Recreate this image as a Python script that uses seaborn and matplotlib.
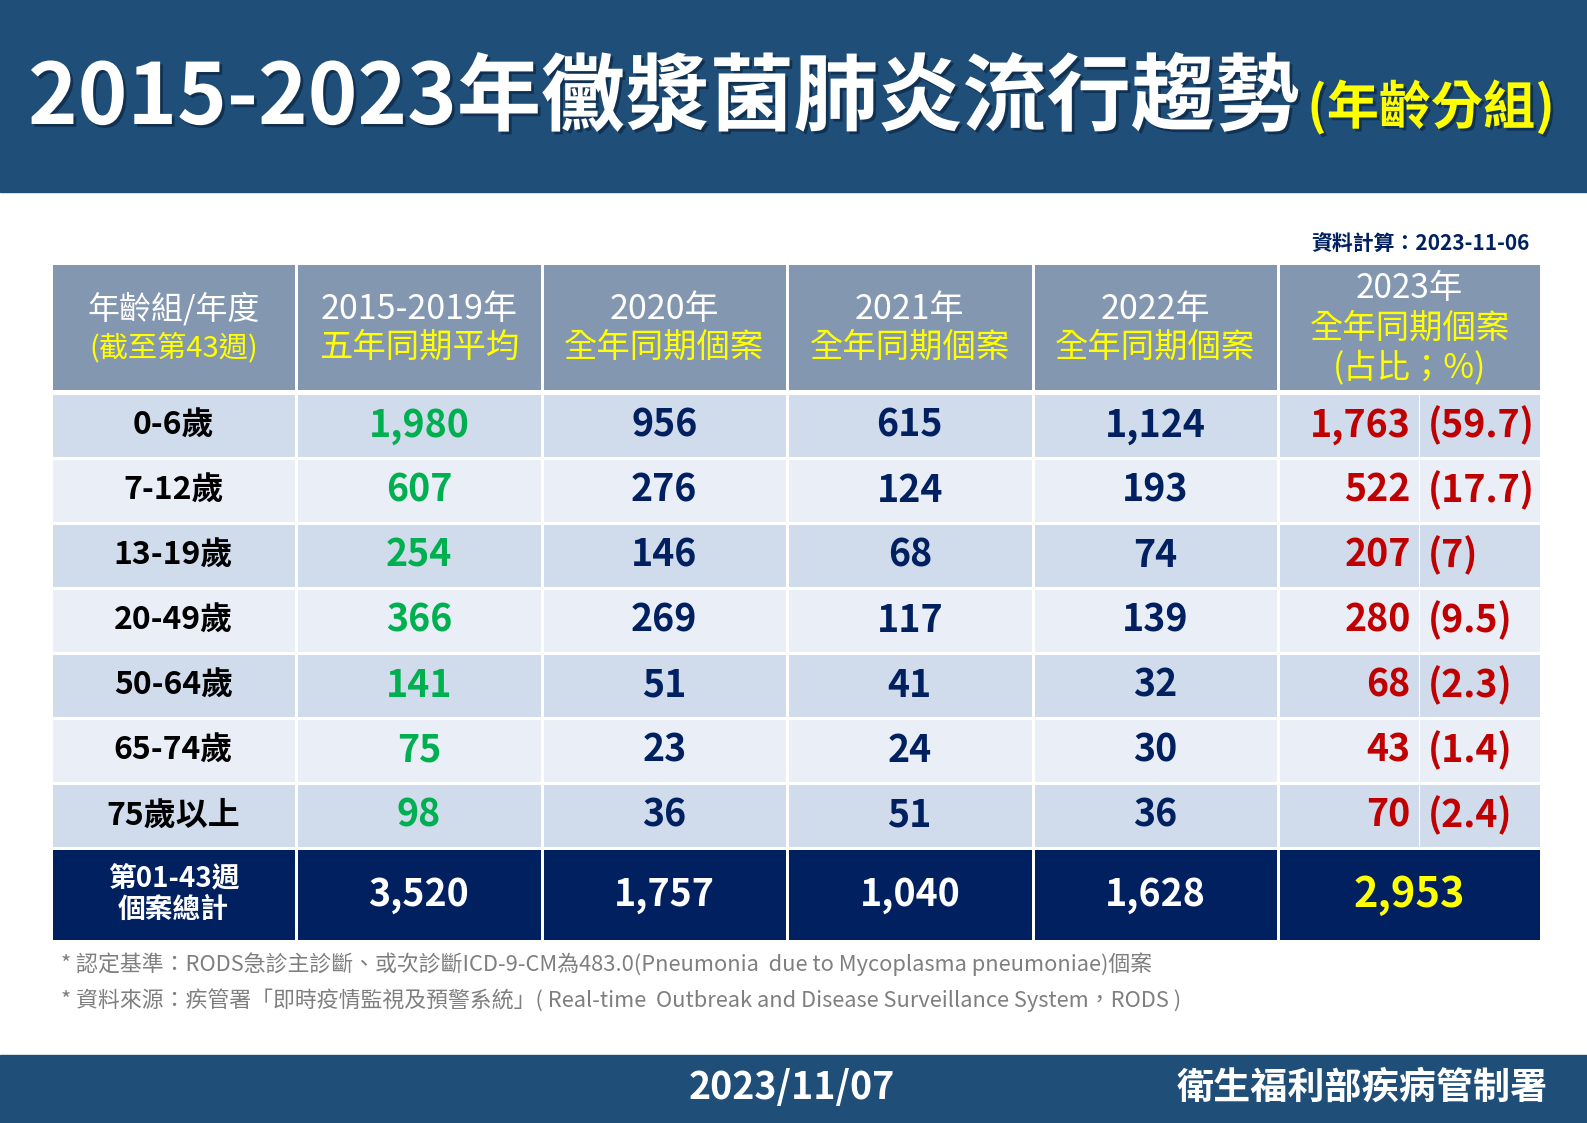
import numpy as np
import matplotlib
matplotlib.use("Agg")
import matplotlib.pyplot as plt
import matplotlib.patheffects as pe
from matplotlib.colors import ListedColormap
from matplotlib.patches import Rectangle
import seaborn as sns

sns.set_theme(style="white")
plt.rcParams['font.family'] = ['Noto Sans CJK TC', 'DejaVu Sans']

# table data
age_groups = ["0-6歲", "7-12歲", "13-19歲", "20-49歲", "50-64歲", "65-74歲", "75歲以上"]
avg_2015_2019 = [1980, 607, 254, 366, 141, 75, 98]
cases_2020 = [956, 276, 146, 269, 51, 23, 36]
cases_2021 = [615, 124, 68, 117, 41, 24, 51]
cases_2022 = [1124, 193, 74, 139, 32, 30, 36]
cases_2023 = [1763, 522, 207, 280, 68, 43, 70]
share_2023 = ["59.7", "17.7", "7", "9.5", "2.3", "1.4", "2.4"]
totals = [3520, 1757, 1040, 1628]
total_2023 = 2953

header_top = ["年齡組/年度", "2015-2019年", "2020年", "2021年", "2022年"]
header_bottom = ["(截至第43週)", "五年同期平均", "全年同期個案", "全年同期個案", "全年同期個案"]
header_2023 = ["2023年", "全年同期個案", "(占比；%)"]
total_label = "第01-43週\n個案總計"

title = "2015-2023年黴漿菌肺炎流行趨勢"
subtitle = "(年齡分組)"
calc_date = "資料計算：2023-11-06"
notes = ["* 認定基準：RODS急診主診斷、或次診斷ICD-9-CM為483.0(Pneumonia  due to Mycoplasma pneumoniae)個案",
         "* 資料來源：疾管署「即時疫情監視及預警系統」( Real-time  Outbreak and Disease Surveillance System，RODS )"]
pub_date = "2023/11/07"
agency = "衛生福利部疾病管制署"

# colours
band = "#1F4E79"
head_bg = "#8497B0"
row_dark = "#D0DBEC"
row_light = "#E9EEF7"
total_bg = "#002060"
green = "#00B050"
navy = "#002060"
red = "#C00000"
yellow = "#FFFF00"

W, H = 1587, 1123
fig = plt.figure(figsize=(W / 100, H / 100), dpi=100)
renderer = fig.canvas.get_renderer()


def fx(px):
    return px / W


def fy(py):
    return 1 - py / H


def block(left, right, top, bottom):
    return fig.add_axes([fx(left), fy(bottom), fx(right - left), (bottom - top) / H])


def cells(ax, codes, palette):
    sns.heatmap(codes, ax=ax, cmap=ListedColormap(palette), vmin=-0.5, vmax=len(palette) - 0.5,
                cbar=False, linewidths=0.8, linecolor="white", xticklabels=False, yticklabels=False)


def fit(txt, width):
    # shrink/grow font so the text spans the given pixel width
    w = txt.get_window_extent(renderer=renderer).width
    txt.set_fontsize(txt.get_fontsize() * width / w)
    return txt


# top and bottom bands
fig.add_artist(Rectangle((0, fy(192)), 1, 192 / H, transform=fig.transFigure, color=band, zorder=0))
fig.add_artist(Rectangle((0, 0), 1, (H - 1055) / H, transform=fig.transFigure, color=band, zorder=0))

shadow = [pe.withSimplePatchShadow(offset=(2, -2), shadow_rgbFace="#0B2640", alpha=0.7)]
t = fig.text(fx(28), fy(124), title, color="white", fontsize=60, fontweight="bold",
             ha="left", va="baseline", path_effects=shadow)
fit(t, 1272)
bb = t.get_window_extent(renderer=renderer)
s = fig.text(fx(bb.x1 + 8), fy(124), subtitle, color=yellow, fontsize=36, fontweight="bold",
             ha="left", va="baseline", path_effects=shadow)
fit(s, 248)

fig.text(fx(1530), fy(243), calc_date, color=navy, fontsize=15, fontweight="bold",
         ha="right", va="center")

# column edges in pixels
x_left, x_split, x_right = 50.6, 1278, 1541
y_head, y_body, y_total, y_end = 263, 393, 848, 941

# header row
ax = block(x_left, x_split, y_head, y_body - 2)
cells(ax, np.zeros((1, 5)), [head_bg])
for j in range(5):
    ax.text(j + 0.5, 0.36, header_top[j], color="white", fontsize=24.5 if j else 23,
            ha="center", va="center")
    ax.text(j + 0.5, 0.66, header_bottom[j], color=yellow, fontsize=24 if j else 21,
            ha="center", va="center")
ax = block(x_split, x_right, y_head, y_body - 2)
cells(ax, np.zeros((1, 1)), [head_bg])
for k, (yy, col) in enumerate(zip([0.2, 0.51, 0.82], ["white", yellow, yellow])):
    ax.text(0.5, yy, header_2023[k], color=col, fontsize=24, ha="center", va="center")

# body rows
n = len(age_groups)
codes = (np.arange(n) % 2)[:, None]
ax = block(x_left, x_split, y_body, y_total)
cells(ax, np.tile(codes, (1, 5)), [row_dark, row_light])
columns = [avg_2015_2019, cases_2020, cases_2021, cases_2022]
colours = [green, navy, navy, navy]
for i in range(n):
    ax.text(0.5, i + 0.5, age_groups[i], color="black", fontsize=23, fontweight="bold",
            ha="center", va="center")
    for j, (vals, col) in enumerate(zip(columns, colours)):
        ax.text(j + 1.5, i + 0.5, f"{vals[i]:,}", color=col, fontsize=27, fontweight="bold",
                ha="center", va="center")

ax = block(x_split, x_right, y_body, y_total)
cells(ax, codes, [row_dark, row_light])
ax.vlines(0.536, 0, n, color="white", lw=0.8)
for i in range(n):
    ax.text(0.505, i + 0.5, f"{cases_2023[i]:,}", color=red, fontsize=27, fontweight="bold",
            ha="right", va="center")
    ax.text(0.57, i + 0.5, f"({share_2023[i]})", color=red, fontsize=27, fontweight="bold",
            ha="left", va="center")

# total row
ax = block(x_left, x_split, y_total, y_end)
cells(ax, np.zeros((1, 5)), [total_bg])
ax.text(0.5, 0.5, total_label, color="white", fontsize=20, fontweight="bold",
        ha="center", va="center", linespacing=1.1)
for j, v in enumerate(totals):
    ax.text(j + 1.5, 0.5, f"{v:,}", color="white", fontsize=27, fontweight="bold",
            ha="center", va="center")
ax = block(x_split, x_right, y_total, y_end)
cells(ax, np.zeros((1, 1)), [total_bg])
ax.text(0.5, 0.5, f"{total_2023:,}", color=yellow, fontsize=30, fontweight="bold",
        ha="center", va="center")

# footnotes
n1 = fig.text(fx(61), fy(964), notes[0], color="#7F7F7F", fontsize=15, ha="left", va="center")
fit(n1, 1093)
fig.text(fx(61), fy(1000), notes[1], color="#7F7F7F", fontsize=n1.get_fontsize(),
         ha="left", va="center")

# footer
fig.text(fx(792), fy(1088), pub_date, color="white", fontsize=27, fontweight="bold",
         ha="center", va="center")
fig.text(fx(1548), fy(1088), agency, color="white", fontsize=26.7, fontweight="bold",
         ha="right", va="center")

fig.savefig("out.png", dpi=100)
